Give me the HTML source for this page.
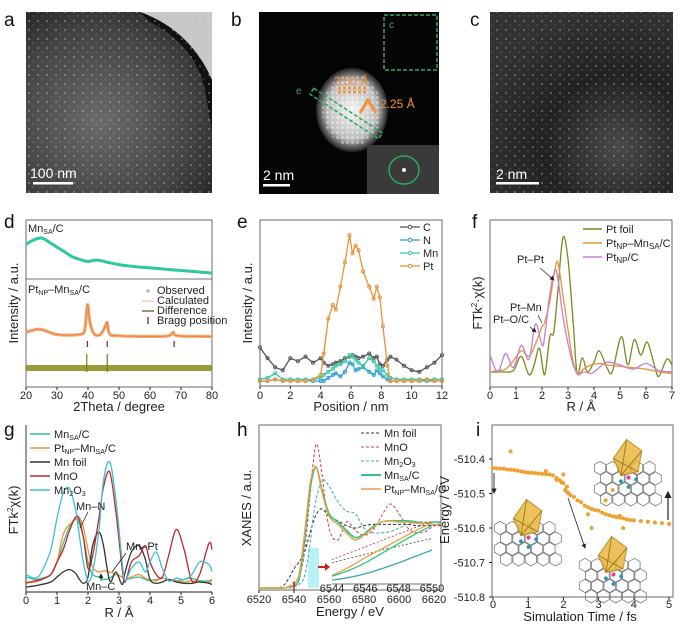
<!DOCTYPE html>
<html><head><meta charset="utf-8">
<style>
html,body{margin:0;padding:0;background:#fff}
svg{display:block;font-family:"Liberation Sans",Arial,sans-serif}
.tk{font-size:11px;fill:#222}
.lb{font-size:13px;fill:#222}
.pl{font-size:19px;fill:#111}
.lg{font-size:11px;fill:#222}
</style></head>
<body>
<svg id="fig" width="681" height="626" viewBox="0 0 681 626" xmlns="http://www.w3.org/2000/svg">
<defs>
<radialGradient id="ga" cx="0.4" cy="0.6" r="0.7"><stop offset="0" stop-color="#6a6a6a"/><stop offset="0.7" stop-color="#444"/><stop offset="1" stop-color="#2a2a2a"/></radialGradient>
<radialGradient id="gp" cx="0.5" cy="0.5" r="0.5"><stop offset="0" stop-color="#f4f4f4"/><stop offset="0.7" stop-color="#bdbdbd"/><stop offset="1" stop-color="#222"/></radialGradient>
<radialGradient id="gc" cx="0.7" cy="0.75" r="0.8"><stop offset="0" stop-color="#4a4a4a"/><stop offset="0.5" stop-color="#222"/><stop offset="1" stop-color="#333"/></radialGradient>
<pattern id="dots" width="9" height="9" patternUnits="userSpaceOnUse"><circle cx="2" cy="3" r="0.9" fill="#ddd"/><circle cx="6" cy="7" r="0.6" fill="#bbb"/></pattern>
<pattern id="lat" width="5" height="5" patternUnits="userSpaceOnUse"><circle cx="2.5" cy="2.5" r="1.3" fill="#fff"/></pattern>
<marker id="ah" markerWidth="6" markerHeight="6" refX="5" refY="3" orient="auto"><path d="M0,0 L6,3 L0,6z" fill="#222"/></marker>
</defs>

<text class="pl" x="4" y="26">a</text>
<g>
<rect x="26" y="12" width="186" height="181" fill="url(#ga)"/>
<path d="M140,12 L212,12 L212,80 Q190,30 140,12z" fill="#c8c8c8"/>
<path d="M150,22 Q195,45 205,90 L212,130 L212,80 Q190,30 140,12z" fill="#111"/>
<rect x="26" y="12" width="186" height="181" fill="url(#dots)" opacity="0.55"/>
<rect x="33" y="182" width="40" height="2.5" fill="#fff"/>
<text x="30" y="178" font-size="14" fill="#fff">100 nm</text>
</g>

<text class="pl" x="231" y="26">b</text>
<g>
<rect x="259" y="12" width="180" height="182" fill="#050505"/>
<ellipse cx="352" cy="110" rx="36" ry="42" fill="url(#gp)"/>
<ellipse cx="352" cy="110" rx="30" ry="36" fill="url(#lat)" opacity="0.5"/>
<rect x="384" y="15" width="53" height="55" fill="none" stroke="#2fa860" stroke-width="1.5" stroke-dasharray="4,2"/>
<text x="389" y="28" font-size="10" fill="#2fa860">c</text>
<g transform="rotate(33 346 114)"><rect x="305" y="110" width="82" height="7" fill="none" stroke="#2fa860" stroke-width="1.5" stroke-dasharray="4,2"/></g>
<text x="296" y="94" font-size="10" fill="#2fa860">e</text>
<text x="334" y="85" font-size="12" fill="#f0923a">2.50 Å</text>
<path d="M338,88 L366,88 M338,92 L366,92" stroke="#f0923a" stroke-width="2.5" stroke-dasharray="3,2"/>
<path d="M360,113 L368,100 L376,113" fill="none" stroke="#f0923a" stroke-width="3"/>
<text x="380" y="108" font-size="12" fill="#f0923a">2.25 Å</text>
<rect x="367" y="145" width="72" height="49" fill="#3a3a3a"/>
<ellipse cx="404" cy="170" rx="15" ry="14" fill="none" stroke="#2fa860" stroke-width="1.5"/>
<circle cx="404" cy="170" r="2" fill="#fff"/>
<rect x="263" y="184" width="27" height="2.5" fill="#fff"/>
<text x="263" y="180" font-size="14" fill="#fff">2 nm</text>
</g>

<text class="pl" x="470" y="26">c</text>
<g>
<rect x="490" y="12" width="183" height="181" fill="url(#gc)"/>
<rect x="490" y="12" width="183" height="181" fill="url(#dots)" opacity="0.5"/>
<rect x="496" y="182" width="43" height="2.5" fill="#fff"/>
<text x="496" y="179" font-size="14" fill="#fff">2 nm</text>
</g>

<text class="pl" x="4" y="228">d</text>
<text class="pl" x="237" y="228">e</text>
<text class="pl" x="472" y="228">f</text>
<text class="pl" x="4" y="436">g</text>
<text class="pl" x="237" y="436">h</text>
<text class="pl" x="476" y="436">i</text>
<g id="charts"></g>
</svg>
<script>
var dMnX=[20,22,25,28,30,33,35,38,40,43,46,50,55,60,65,70,75,80];
var dMnY=[7.0,7.6,8.0,7.2,6.6,5.7,5.1,4.6,4.4,4.6,4.3,3.9,3.6,3.4,3.2,3.0,2.8,2.6];
var dPtX=[20,22,24,26,28,30,34,38,39,39.6,40,40.6,42,44,45.5,46.2,47,50,60,66,67.5,69,80];
var dPtY=[1.3,1.6,1.8,1.6,1.2,0.9,0.8,1.0,1.8,5.0,5.8,3.0,1.0,0.9,2.2,2.9,1.0,0.7,0.6,0.7,1.3,0.7,0.6];
var dBragg=[39.8,46.2,67.8];
var dDiffSpike=[39.6,46.2];
var eX=[0,0.5,1,1.5,2,2.5,3,3.5,4,4.2,4.5,4.8,5.0,5.3,5.6,5.9,6.1,6.3,6.5,6.8,7.2,7.5,7.7,7.9,8.1,8.4,8.6,9,9.5,10,10.5,11,11.5,12];
var ePt=[0.02,0.02,0.03,0.02,0.02,0.02,0.02,0.03,0.06,0.2,0.43,0.52,0.49,0.64,0.80,0.98,0.86,0.91,0.88,0.74,0.64,0.56,0.64,0.57,0.38,0.12,0.02,0.02,0.02,0.02,0.02,0.03,0.02,0.02];
var eC=[0.24,0.17,0.11,0.09,0.17,0.15,0.18,0.14,0.17,0.14,0.12,0.13,0.14,0.15,0.17,0.18,0.19,0.18,0.17,0.18,0.2,0.17,0.18,0.13,0.12,0.16,0.18,0.16,0.12,0.09,0.08,0.11,0.14,0.19];
var eMn=[0.03,0.04,0.07,0.03,0.03,0.03,0.03,0.03,0.04,0.06,0.08,0.1,0.12,0.13,0.15,0.19,0.18,0.16,0.14,0.12,0.17,0.15,0.12,0.1,0.09,0.06,0.04,0.03,0.03,0.03,0.03,0.03,0.03,0.03];
var eN=[0.02,0.02,0.03,0.02,0.02,0.02,0.02,0.02,0.02,0.02,0.04,0.06,0.07,0.05,0.08,0.14,0.13,0.09,0.1,0.11,0.08,0.06,0.09,0.07,0.05,0.03,0.02,0.02,0.02,0.02,0.02,0.02,0.02,0.02];
var fFoilX=[0,0.5,0.9,1.2,1.5,1.7,1.9,2.1,2.3,2.45,2.6,2.8,3.0,3.2,3.35,3.55,3.75,4.0,4.2,4.5,4.7,5.05,5.3,5.55,5.8,6.05,6.35,6.5,6.8,7];
var fFoil=[0.05,0.05,0.06,0.16,0.03,0.1,0.22,0.03,0.30,0.33,0.6,1.0,0.85,0.4,0.04,0.15,0.05,0.12,0.2,0.08,0.05,0.3,0.1,0.28,0.17,0.26,0.08,0.02,0.14,0.1];
var fX=[0,0.3,0.6,0.9,1.2,1.5,1.75,2.0,2.1,2.3,2.5,2.62,2.8,3.0,3.2,3.4,3.6,3.9,4.2,4.5,5,5.5,6,6.5,7];
var fPtMn=[0.05,0.06,0.07,0.13,0.2,0.16,0.25,0.37,0.4,0.55,0.78,0.82,0.6,0.35,0.12,0.04,0.07,0.1,0.11,0.1,0.09,0.08,0.07,0.05,0.04];
var fPtC=[0.17,0.05,0.18,0.08,0.24,0.14,0.39,0.24,0.3,0.6,0.77,0.7,0.45,0.25,0.1,0.03,0.05,0.04,0.08,0.12,0.1,0.07,0.11,0.06,0.05];
var gX=[0,0.3,0.5,0.8,1.0,1.2,1.4,1.6,1.7,1.85,2.0,2.15,2.35,2.5,2.7,2.9,3.1,3.2,3.4,3.65,3.85,4.0,4.2,4.4,4.6,4.85,5.1,5.35,5.6,5.9,6];
var gMnSA=[0.08,0.06,0.07,0.1,0.2,0.35,0.48,0.55,0.52,0.4,0.2,0.1,0.08,0.06,0.07,0.1,0.08,0.06,0.07,0.08,0.06,0.05,0.06,0.07,0.06,0.05,0.06,0.07,0.05,0.05,0.06];
var gPtMn=[0.04,0.04,0.06,0.1,0.2,0.42,0.5,0.54,0.56,0.48,0.3,0.16,0.12,0.13,0.12,0.1,0.08,0.06,0.08,0.1,0.07,0.06,0.05,0.07,0.06,0.05,0.04,0.05,0.04,0.04,0.05];
var gFoil=[0.0,0.01,0.02,0.04,0.08,0.12,0.14,0.11,0.07,0.03,0.08,0.33,0.44,0.33,0.05,0.12,0.02,0.12,0.28,0.33,0.22,0.06,0.03,0.04,0.06,0.04,0.03,0.03,0.04,0.03,0.02];
var gMnO=[0.03,0.05,0.06,0.1,0.2,0.3,0.45,0.56,0.55,0.4,0.15,0.25,0.55,0.8,0.92,0.6,0.15,0.04,0.2,0.25,0.33,0.2,0.1,0.08,0.25,0.46,0.3,0.05,0.1,0.35,0.3];
var gMn2O3=[0.1,0.07,0.12,0.3,0.55,0.75,0.79,0.62,0.45,0.2,0.05,0.12,0.45,0.85,1.0,0.7,0.2,0.05,0.15,0.2,0.12,0.2,0.28,0.15,0.05,0.07,0.06,0.1,0.2,0.18,0.12];
var hX=[6520,6530,6534,6537,6540,6543,6546,6549,6551,6553,6556,6560,6565,6570,6575,6580,6585,6590,6595,6600,6605,6610,6615,6620,6624];
var hMnSA=[0.0,0.0,0.0,0.01,0.02,0.08,0.4,0.8,0.96,1.0,0.82,0.62,0.55,0.48,0.42,0.45,0.51,0.55,0.56,0.56,0.56,0.55,0.54,0.55,0.55];
var hPtMn=[0.0,0.0,0.0,0.01,0.03,0.12,0.45,0.85,0.98,1.0,0.8,0.6,0.53,0.46,0.4,0.44,0.5,0.55,0.56,0.55,0.55,0.54,0.54,0.53,0.53];
var hFoil=[0.0,0.0,0.02,0.08,0.16,0.22,0.3,0.45,0.55,0.62,0.66,0.6,0.56,0.52,0.5,0.52,0.53,0.53,0.53,0.53,0.53,0.52,0.52,0.52,0.52];
var hMnO=[0.0,0.0,0.0,0.01,0.05,0.1,0.3,0.75,1.05,1.2,0.95,0.5,0.4,0.55,0.48,0.44,0.48,0.6,0.7,0.62,0.5,0.46,0.47,0.52,0.54];
var hMn2O3=[0.0,0.0,0.0,0.0,0.01,0.03,0.1,0.35,0.6,0.76,0.9,0.85,0.72,0.64,0.62,0.5,0.46,0.46,0.47,0.5,0.53,0.55,0.55,0.55,0.55];
var insX=[6544,6545,6546,6547,6548,6549,6550];
var insPtMn=[0.1,0.23,0.38,0.52,0.66,0.8,0.92];
var insMnSA=[0.09,0.18,0.3,0.45,0.6,0.75,0.88];
var insMnSAc=[0.03,0.07,0.13,0.21,0.3,0.4,0.5];
var insMnO=[0.35,0.45,0.55,0.65,0.75,0.85,0.95];
var insFoil=[0.3,0.37,0.43,0.5,0.56,0.62,0.68];
var iT=[0,0.1,0.2,0.3,0.4,0.5,0.6,0.7,0.8,0.9,1.0,1.1,1.2,1.3,1.4,1.5,1.6,1.7,1.8,1.85,1.9,1.95,2.0,2.05,2.1,2.15,2.2,2.3,2.4,2.5,2.6,2.7,2.8,2.9,3.0,3.1,3.2,3.3,3.4,3.5,3.6,3.7,3.8,3.9,4.0,4.2,4.4,4.6,4.8,5.0,0.5,1.0,1.5,1.8,2.0,2.1,2.7,2.8,3.2,3.4,3.7,3.6];
var iE=[-510.426,-510.427,-510.428,-510.428,-510.430,-510.431,-510.432,-510.434,-510.436,-510.438,-510.44,-510.44,-510.441,-510.442,-510.443,-510.444,-510.445,-510.447,-510.455,-510.46,-510.462,-510.468,-510.47,-510.49,-510.495,-510.50,-510.505,-510.51,-510.52,-510.525,-510.535,-510.54,-510.545,-510.548,-510.55,-510.555,-510.56,-510.563,-510.566,-510.568,-510.57,-510.572,-510.575,-510.577,-510.578,-510.58,-510.582,-510.584,-510.586,-510.588,-510.378,-510.44,-510.435,-510.46,-510.445,-510.48,-510.56,-510.6,-510.52,-510.49,-510.6,-510.565];

var NS='http://www.w3.org/2000/svg';
var root=document.getElementById('charts');
function mk(tag,attrs,parent){var e=document.createElementNS(NS,tag);for(var k in attrs)e.setAttribute(k,attrs[k]);(parent||root).appendChild(e);return e;}
function lin(d0,d1,r0,r1){return function(v){return r0+(v-d0)*(r1-r0)/(d1-d0);};}
function pathD(xs,ys,sx,sy){var s='';for(var i=0;i<xs.length;i++){s+=(i?'L':'M')+sx(xs[i]).toFixed(1)+','+sy(ys[i]).toFixed(1);}return s;}
function smoothD(xs,ys,sx,sy){var p=[];for(var i=0;i<xs.length;i++)p.push([sx(xs[i]),sy(ys[i])]);var s='M'+p[0][0].toFixed(1)+','+p[0][1].toFixed(1);for(var i=0;i<p.length-1;i++){var p0=p[i-1]||p[i],p1=p[i],p2=p[i+1],p3=p[i+2]||p2;var c1x=p1[0]+(p2[0]-p0[0])/6,c1y=p1[1]+(p2[1]-p0[1])/6,c2x=p2[0]-(p3[0]-p1[0])/6,c2y=p2[1]-(p3[1]-p1[1])/6;s+='C'+c1x.toFixed(1)+','+c1y.toFixed(1)+' '+c2x.toFixed(1)+','+c2y.toFixed(1)+' '+p2[0].toFixed(1)+','+p2[1].toFixed(1);}return s;}
function txt(x,y,s,cls,extra){var t=mk('text',Object.assign({x:x,y:y,'class':cls},extra||{}));t.innerHTML=s;return t;}
function xAxis(g,ticks,sx,y,ly){ticks.forEach(function(v){mk('line',{x1:sx(v),x2:sx(v),y1:y,y2:y+3,stroke:'#222'},g);var t=txt(sx(v),ly,String(v),'tk',{'text-anchor':'middle'});g.appendChild(t);});}
function frame(x0,y0,x1,y1,full){var g=mk('g',{});if(full)mk('rect',{x:x0,y:y0,width:x1-x0,height:y1-y0,fill:'none',stroke:'#444','stroke-width':0.8},g);else{mk('line',{x1:x0,x2:x1,y1:y1,y2:y1,stroke:'#222','stroke-width':0.9},g);mk('line',{x1:x0,x2:x0,y1:y0,y2:y1,stroke:'#222','stroke-width':0.9},g);}return g;}
function curve(d,color,w,name,dash){var p=mk('path',{d:d,fill:'none',stroke:color,'stroke-width':w,'stroke-linejoin':'round'});if(dash)p.setAttribute('stroke-dasharray',dash);return p;}

(function(){
var g=frame(26,220,212,387,true);


mk('line',{x1:26,x2:212,y1:279,y2:279,stroke:'#444','stroke-width':0.8},g);
var sx=lin(20,80,26,212);
var syTop=lin(0,10,290,225);
var syB=lin(0,10,340,280);
curve(smoothD(dMnX,dMnY,sx,syTop),'#2ec79e',3,'mn-sa-c-xrd-curve');
curve(smoothD(dPtX,dPtY,sx,syB),'#f4a874',3.2,'pt-np-mn-sa-observed');
curve(smoothD(dPtX,dPtY,sx,syB),'#e8843a',0.9,'pt-np-mn-sa-calculated');
dBragg.forEach(function(v){var l=mk('line',{x1:sx(v),x2:sx(v),y1:341,y2:347,stroke:'#8b1a3a','stroke-width':1.2},g);});
mk('rect',{x:26,y:365,width:186,height:6,fill:'#8a8a14',opacity:0.85},g);
dDiffSpike.forEach(function(v){mk('line',{x1:sx(v),x2:sx(v),y1:354,y2:372,stroke:'#7a7a10','stroke-width':1.2},g);});
xAxis(g,[20,30,40,50,60,70,80],sx,387,399);
txt(119,411,'2Theta / degree','lb',{'text-anchor':'middle'});
txt(28,232,'Mn<tspan font-size="7" dy="2">SA</tspan><tspan dy="-2">/C</tspan>','lg');
txt(28,293,'Pt<tspan font-size="7" dy="2">NP</tspan><tspan dy="-2">–Mn</tspan><tspan font-size="7" dy="2">SA</tspan><tspan dy="-2">/C</tspan>','lg');
var L=[['Observed','#bbb'],['Calculated','#f4c0a0'],['Difference','#6b5e10'],['Bragg position','#8b1a3a']];
L.forEach(function(l,i){var y=294+i*10;if(i==0)mk('circle',{cx:148,cy:y-3,r:1.8,fill:l[1]});else if(i==3)mk('line',{x1:148,x2:148,y1:y-7,y2:y,stroke:l[1],'stroke-width':1.3});else mk('line',{x1:142,x2:154,y1:y-3,y2:y-3,stroke:l[1],'stroke-width':1.3});txt(157,y,l[0],'lg',{'font-size':'8.5'});});
txt(0,0,'Intensity / a.u.','lb',{transform:'translate(18,303) rotate(-90)','text-anchor':'middle'});
})();

(function(){
var g=frame(260,220,442,386,true);


var sx=lin(0,12,260,442), sy=lin(0,1,384,232);
var S=[[eC,'#555555','series-c'],[eN,'#2aa0d0','series-n'],[eMn,'#33c9a8','series-mn'],[ePt,'#e8923a','series-pt']];
S.forEach(function(s){curve(pathD(eX,s[0],sx,sy),s[1],1.3,s[2]);for(var i=0;i<eX.length;i++){var c=mk('circle',{cx:sx(eX[i]),cy:sy(s[0][i]),r:1.6,fill:'none',stroke:s[1],'stroke-width':0.9});}});
var names=['C','N','Mn','Pt'];
S.forEach(function(s,i){var y=227+i*13;mk('line',{x1:400,x2:420,y1:y,y2:y,stroke:s[1],'stroke-width':1.2});mk('circle',{cx:410,cy:y,r:1.8,fill:'#fff',stroke:s[1]});txt(423,y+4,names[i],'lg',{'font-size':'12'});});
xAxis(g,[0,2,4,6,8,10,12],sx,386,399);
txt(351,411,'Position / nm','lb',{'text-anchor':'middle'});
txt(0,0,'Intensity / a.u.','lb',{transform:'translate(252,303) rotate(-90)','text-anchor':'middle'});
})();

(function(){
var g=frame(490,220,672,387,true);


var sx=lin(0,7,490,672), sy=lin(0,1,379,238);
curve(smoothD(fFoilX,fFoil,sx,sy),'#7a8a20',1.3,'pt-foil-curve');
curve(smoothD(fX,fPtMn,sx,sy),'#e8923a',1.3,'pt-np-mn-sa-curve');
curve(smoothD(fX,fPtC,sx,sy),'#c77fd0',1.3,'pt-np-c-curve');
var L=[['Pt foil','#7a8a20'],['Pt<tspan font-size="8" dy="2">NP</tspan><tspan dy="-2">–Mn</tspan><tspan font-size="8" dy="2">SA</tspan><tspan dy="-2">/C</tspan>','#e8923a'],['Pt<tspan font-size="8" dy="2">NP</tspan><tspan dy="-2">/C</tspan>','#c77fd0']];
L.forEach(function(l,i){var y=229+i*14;mk('line',{x1:583,x2:602,y1:y,y2:y,stroke:l[1],'stroke-width':1.5});txt(606,y+4,l[0],'lg',{'font-size':'12'});});
txt(517,263,'Pt–Pt','lg',{'font-size':'12'});
mk('line',{x1:540,x2:554,y1:268,y2:280,stroke:'#222','stroke-width':0.8,'marker-end':'url(#ah)'});
txt(510,311,'Pt–Mn','lg',{'font-size':'12'});
mk('line',{x1:538,x2:542,y1:315,y2:323,stroke:'#222','stroke-width':0.8});
txt(493,323,'Pt–O/C','lg',{'font-size':'12'});
mk('line',{x1:530,x2:536,y1:327,y2:332,stroke:'#222','stroke-width':0.8,'marker-end':'url(#ah)'});
xAxis(g,[0,1,2,3,4,5,6,7],sx,387,399);
txt(581,411,'R / Å','lb',{'text-anchor':'middle'});
txt(0,0,'FTk<tspan font-size="8" dy="-5">2</tspan><tspan dy="5">·χ(k)</tspan>','lb',{transform:'translate(482,303) rotate(-90)','text-anchor':'middle'});
})();

(function(){
var g=frame(26,425,212,592,false);


var sx=lin(0,6,26,212), sy=lin(0,1,587,462);
var S=[[gMnSA,'#2ec4a0','mn-sa-c-curve'],[gPtMn,'#f0923a','pt-np-mn-sa-curve'],[gFoil,'#333','mn-foil-curve'],[gMnO,'#c0282a','mno-curve'],[gMn2O3,'#3cc0d8','mn2o3-curve']];
S.forEach(function(s){curve(smoothD(gX,s[0],sx,sy),s[1],1.3,s[2]);});
var N=['Mn<tspan font-size="7" dy="2">SA</tspan><tspan dy="-2">/C</tspan>','Pt<tspan font-size="7" dy="2">NP</tspan><tspan dy="-2">–Mn</tspan><tspan font-size="7" dy="2">SA</tspan><tspan dy="-2">/C</tspan>','Mn foil','MnO','Mn<tspan font-size="7" dy="2">2</tspan><tspan dy="-2">O</tspan><tspan font-size="7" dy="2">3</tspan>'];
S.forEach(function(s,i){var y=434+i*14;mk('line',{x1:30,x2:50,y1:y,y2:y,stroke:s[1],'stroke-width':1.5});txt(54,y+4,N[i],'lg',{'font-size':'11'});});
txt(76,510,'Mn–N','lg',{'font-size':'11'});
mk('line',{x1:88,x2:80,y1:512,y2:528,stroke:'#222','stroke-width':0.8});
txt(126,550,'Mn–Pt','lg',{'font-size':'11'});
mk('line',{x1:126,x2:112,y1:553,y2:572,stroke:'#222','stroke-width':0.8});
txt(86,590,'Mn–C','lg',{'font-size':'11'});
mk('line',{x1:101,x2:101,y1:581,y2:574,stroke:'#222','stroke-width':0.8,'marker-end':'url(#ah)'});
xAxis(g,[0,1,2,3,4,5,6],sx,592,604);
txt(119,617,'R / Å','lb',{'text-anchor':'middle'});
txt(0,0,'FTk<tspan font-size="8" dy="-5">2</tspan><tspan dy="5">χ(k)</tspan>','lb',{transform:'translate(18,510) rotate(-90)','text-anchor':'middle'});
})();

(function(){
var g=frame(259,425,441,590,true);


var sx=lin(6520,6620,259,434), sy=lin(0,1,588,468);
mk('rect',{x:308,y:548,width:11,height:40,fill:'#a8ecf4',opacity:0.8},g);
curve(smoothD(hX,hFoil,sx,sy),'#333','1','mn-foil-curve','3,2');
curve(smoothD(hX,hMnO,sx,sy),'#d04050','1','mno-curve','3,2');
curve(smoothD(hX,hMn2O3,sx,sy),'#3aa8c0','1','mn2o3-curve','3,2');
curve(smoothD(hX,hMnSA,sx,sy),'#2ec48a',1.6,'mn-sa-c-curve');
curve(smoothD(hX,hPtMn,sx,sy),'#e8a040',1.4,'pt-np-mn-sa-curve');
mk('line',{x1:sx(6540),x2:sx(6540),y1:582,y2:590,stroke:'#d02020','stroke-width':1.5});
var ix=lin(6544,6550,332,432), iy=lin(0,1,582,518);
mk('line',{x1:332,x2:432,y1:584,y2:584,stroke:'#444','stroke-width':0.7},g);
[6544,6546,6548,6550].forEach(function(v){txt(ix(v),592,String(v),'tk',{'font-size':'6','text-anchor':'middle'});});
curve(smoothD(insX,insFoil,ix,iy),'#555',0.9,'inset-mn-foil','2,2');
curve(smoothD(insX,insMnO,ix,iy),'#d04050',0.9,'inset-mno','2,2');
curve(smoothD(insX,insPtMn,ix,iy),'#e8a040',1.3,'inset-pt-np-mn-sa');
curve(smoothD(insX,insMnSA,ix,iy),'#2ec48a',1.3,'inset-mn-sa-c');
curve(smoothD(insX,insMnSAc,ix,iy),'#3aa0c8',1.3,'inset-mn2o3');
mk('path',{d:'M318,566 L325,566 L325,563 L330,567 L325,571 L325,568 L318,568z',fill:'#d02020'});
var L=[['Mn foil','#333','3,2',1],['MnO','#d04050','3,2',1],['Mn<tspan font-size="7" dy="2">2</tspan><tspan dy="-2">O</tspan><tspan font-size="7" dy="2">3</tspan>','#3aa8c0','3,2',1],['Mn<tspan font-size="7" dy="2">SA</tspan><tspan dy="-2">/C</tspan>','#2ec48a','',2],['Pt<tspan font-size="7" dy="2">NP</tspan><tspan dy="-2">–Mn</tspan><tspan font-size="7" dy="2">SA</tspan><tspan dy="-2">/C</tspan>','#e8a040','',1.5]];
L.forEach(function(l,i){var y=433+i*14;var a={x1:361,x2:381,y1:y,y2:y,stroke:l[1],'stroke-width':l[3]};if(l[2])a['stroke-dasharray']=l[2];mk('line',a);txt(384,y+4,l[0],'lg',{'font-size':'11'});});
xAxis(g,[6520,6540,6560,6580,6600,6620],sx,590,603);
txt(350,616,'Energy / eV','lb',{'text-anchor':'middle'});
txt(0,0,'XANES / a.u.','lb',{transform:'translate(251,508) rotate(-90)','text-anchor':'middle'});
})();

(function(){
var g=frame(492,425,673,597,true);


var sx=lin(0,5,493,669), sy=lin(-510.4,-510.8,459,597);
function mol(x,y,s){var h=mk('g',{transform:'translate('+x+','+y+') scale('+s+')'});for(var r=0;r<4;r++)for(var c=0;c<5;c++){var cx=c*13+(r%2)*6.5,cy=r*11;mk('polygon',{points:[0,-7,6,-3.5,6,3.5,0,7,-6,3.5,-6,-3.5].map(function(v,k){return k%2?v+cy:v+cx;}).join(' '),fill:'none',stroke:'#777','stroke-width':0.8},h);}mk('polygon',{points:'14,-10 28,-30 44,-18 40,4 22,8',fill:'#e8b840',stroke:'#b58a20','stroke-width':1.2,opacity:0.85},h);mk('path',{d:'M14,-10 L40,4 M28,-30 L22,8 M44,-18 L22,8',stroke:'#a07818','stroke-width':1},h);mk('circle',{cx:30,cy:10,r:2.2,fill:'#e040a0'},h);[[22,14],[38,12],[30,20]].forEach(function(p){mk('circle',{cx:p[0],cy:p[1],r:2,fill:'#2a90b8'},h);});return h;}
mol(600,468,0.95);mol(500,528,0.95);mol(585,565,0.95);
for(var i=0;i<iT.length;i++){var c=mk('circle',{cx:sx(iT[i]),cy:sy(iE[i]),r:2,fill:'#f0a030'});}
mk('line',{x1:494,x2:494,y1:473,y2:493,stroke:'#222','stroke-width':0.9,'marker-end':'url(#ah)'});
mk('line',{x1:668,x2:668,y1:520,y2:492,stroke:'#222','stroke-width':1.2,'marker-end':'url(#ah)'});
mk('line',{x1:568,x2:585,y1:498,y2:548,stroke:'#222','stroke-width':0.8,'marker-end':'url(#ah)'});
[-510.4,-510.5,-510.6,-510.7,-510.8].forEach(function(v){mk('line',{x1:489,x2:492,y1:sy(v),y2:sy(v),stroke:'#222'},g);txt(485,sy(v)+4,v.toFixed(1),'tk',{'text-anchor':'end','font-size':'10'});});
xAxis(g,[0,1,2,3,4,5],sx,597,608);
txt(580,621,'Simulation Time / fs','lb',{'text-anchor':'middle'});
txt(0,0,'Energy / eV','lb',{transform:'translate(449,510) rotate(-90)','text-anchor':'middle'});
})();
</script>
</body></html>
